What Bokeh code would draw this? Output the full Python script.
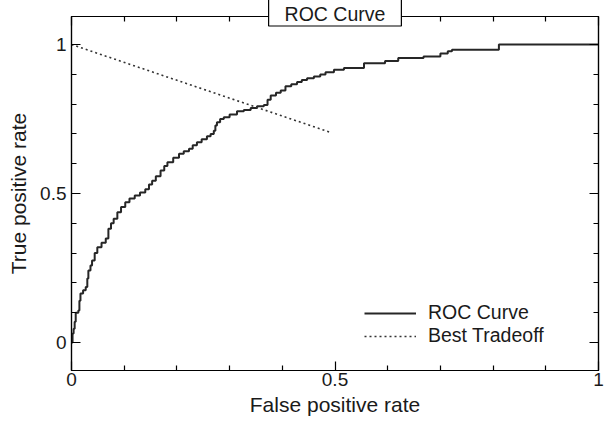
from bokeh.plotting import figure
from bokeh.models import LinearAxis, FixedTicker, Range1d
from bokeh.embed import file_html
from bokeh.resources import INLINE

# ---- data ----
fpr = [0.000, 0.002, 0.004, 0.006, 0.008, 0.013, 0.015, 0.017, 0.022, 0.027,
       0.030, 0.032, 0.036, 0.039, 0.044, 0.049, 0.057, 0.065, 0.070, 0.075,
       0.080, 0.087, 0.094, 0.102, 0.110, 0.120, 0.130, 0.140, 0.147, 0.153,
       0.160, 0.169, 0.176, 0.182, 0.193, 0.204, 0.213, 0.223, 0.230, 0.238,
       0.247, 0.257, 0.264, 0.270, 0.273, 0.276, 0.282, 0.289, 0.300, 0.314,
       0.327, 0.340, 0.352, 0.365, 0.372, 0.378, 0.388, 0.397, 0.406, 0.417,
       0.428, 0.437, 0.447, 0.460, 0.472, 0.482, 0.498, 0.517, 0.555, 0.595,
       0.620, 0.668, 0.700, 0.714, 0.722, 0.811, 1.000]
tpr = [0.000, 0.030, 0.046, 0.070, 0.100, 0.107, 0.140, 0.164, 0.175, 0.186,
       0.215, 0.242, 0.258, 0.275, 0.300, 0.320, 0.335, 0.349, 0.382, 0.400,
       0.415, 0.437, 0.455, 0.471, 0.483, 0.493, 0.503, 0.514, 0.530, 0.543,
       0.558, 0.577, 0.592, 0.605, 0.620, 0.633, 0.642, 0.650, 0.662, 0.672,
       0.682, 0.692, 0.700, 0.711, 0.728, 0.739, 0.750, 0.756, 0.765, 0.776,
       0.780, 0.787, 0.793, 0.797, 0.815, 0.829, 0.838, 0.846, 0.860, 0.867,
       0.874, 0.881, 0.887, 0.893, 0.899, 0.907, 0.915, 0.921, 0.937, 0.945,
       0.955, 0.960, 0.970, 0.977, 0.982, 1.000, 1.000]

tradeoff_fpr = [0.0, 0.49]
tradeoff_tpr = [1.0, 0.706]

major_ticks = [0, 0.5, 1]
tick_labels = {0: "0", 0.5: "0.5", 1: "1"}
blank_labels = {0: "", 0.5: "", 1: ""}
minor_ticks = [0.1, 0.2, 0.3, 0.4, 0.6, 0.7, 0.8, 0.9]

title_text = "ROC Curve"
x_label = "False positive rate"
y_label = "True positive rate"
series_names = ["ROC Curve", "Best Tradeoff"]

FONT = "Liberation Sans"
TICK_FS = "19px"
LABEL_FS = "21px"
TEXT_FS = "19.5px"
INK = "#1a1a1a"

p = figure(frame_width=527, frame_height=354,
           x_range=Range1d(0, 1), y_range=Range1d(-0.094, 1.094),
           output_backend="svg", toolbar_location=None,
           min_border_left=71, min_border_right=9,
           min_border_top=16, min_border_bottom=52)
p.xgrid.visible = False
p.ygrid.visible = False
p.outline_line_color = "black"
p.outline_line_width = 1.2
p.background_fill_color = "white"
p.border_fill_color = "white"

# boxed title straddling the top frame line
p.title.text = title_text
p.title.align = "center"
p.title.vertical_align = "top"
p.title.standoff = -23
p.title.text_font = FONT
p.title.text_font_size = TEXT_FS
p.title.text_font_style = "normal"
p.title.text_color = INK
p.title.background_fill_color = "white"
p.title.border_line_color = "black"
p.title.border_line_width = 1.2
p.title.padding = dict(left=16, right=16, top=4, bottom=1)

bottom_axis = p.below[0]
left_axis = p.left[0]
top_axis = LinearAxis()
right_axis = LinearAxis()
p.add_layout(top_axis, "above")
p.add_layout(right_axis, "right")

for ax in [bottom_axis, left_axis, top_axis, right_axis]:
    ax.ticker = FixedTicker(ticks=major_ticks, minor_ticks=minor_ticks)
    ax.major_tick_in = 9
    ax.major_tick_out = 0
    ax.minor_tick_in = 5
    ax.minor_tick_out = 0
    ax.axis_line_color = "black"
    ax.axis_line_width = 1.2
    ax.major_tick_line_color = "black"
    ax.minor_tick_line_color = "black"
    ax.major_tick_line_width = 1.2
    ax.minor_tick_line_width = 1.2
    ax.major_label_overrides = tick_labels
    ax.major_label_text_font = FONT
    ax.major_label_text_font_size = TICK_FS
    ax.major_label_text_color = INK
    ax.axis_label_text_font = FONT
    ax.axis_label_text_font_size = LABEL_FS
    ax.axis_label_text_font_style = "normal"
    ax.axis_label_text_color = INK

for ax in [top_axis, right_axis]:
    ax.major_label_overrides = blank_labels
    ax.major_label_text_font_size = "0px"
    ax.major_label_standoff = 0

bottom_axis.axis_label = x_label
bottom_axis.major_label_standoff = 2
bottom_axis.axis_label_standoff = 4
left_axis.axis_label = y_label
left_axis.major_label_standoff = 5
left_axis.axis_label_standoff = 7

p.step(fpr, tpr, mode="after", line_width=2, line_color="#262626",
       legend_label=series_names[0])
p.line(tradeoff_fpr, tradeoff_tpr, line_width=1.6, line_color="#333333",
       line_dash="2 3", legend_label=series_names[1])

lg = p.legend[0]
lg.location = (293, 23)
lg.border_line_color = None
lg.background_fill_alpha = 0
lg.padding = 0
lg.margin = 0
lg.spacing = 0
lg.glyph_width = 52
lg.glyph_height = 20
lg.label_height = 20
lg.label_standoff = 12
lg.label_text_font = FONT
lg.label_text_font_size = TEXT_FS
lg.label_text_color = INK

open("out.html", "w").write(file_html(p, INLINE))
